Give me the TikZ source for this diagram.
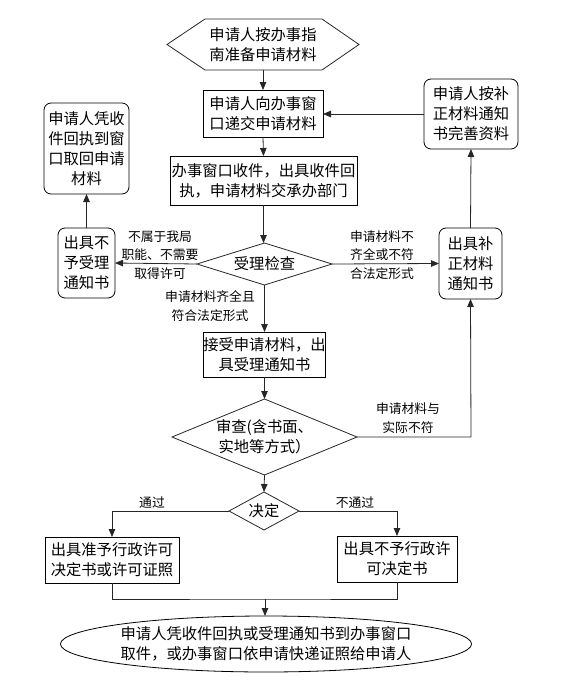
\documentclass[tikz,border=0pt]{standalone}
\usepackage{fontspec}
\setmainfont{Noto Sans CJK SC}
\usetikzlibrary{arrows.meta,calc,shapes.geometric}
\begin{document}
\begin{tikzpicture}[x=1pt,y=-1pt,
  every node/.style={inner sep=0pt,outer sep=0pt,align=center},
  main/.style={font=\fontsize{15.3}{20}\selectfont},
  lab/.style={font=\fontsize{12.8}{18.3}\selectfont},
  box/.style={main,draw,line width=0.8pt,rectangle},
  rbox/.style={box,rounded corners=7pt},
  ghost/.style={main,rectangle,draw=none},
  line/.style={line width=0.8pt,draw=black!85},
  arr/.style={line,-{Triangle[length=8pt,width=6.5pt]}}]
\useasboundingbox (0,0) rectangle (586,693);
% nodes
\node[ghost,minimum width=192pt,minimum height=51pt] (start) at (263,44.5) {申请人按办事指\\南准备申请材料};
\draw[line] (start.west) -- ($(start.north west)+(38,0)$) -- ($(start.north east)+(-37,0)$) -- (start.east) -- ($(start.south east)+(-37,0)$) -- ($(start.south west)+(38,0)$) -- cycle;
\node[box,minimum width=120pt,minimum height=47pt] (b2) at (263,113.5) {申请人向办事窗\\口递交申请材料};
\node[box,minimum width=187pt,minimum height=49pt] (b3) at (263.5,180.5) {办事窗口收件，出具收件回\\执，申请材料交承办部门};
\node[ghost,minimum width=135pt,minimum height=42pt] (d1) at (264.5,264) {受理检查};
\draw[line] (d1.north) -- (d1.east) -- (d1.south) -- (d1.west) -- cycle;
\node[rbox,minimum width=57pt,minimum height=70pt] (l1) at (86.5,263) {出具不\\予受理\\通知书};
\node[rbox,minimum width=85pt,minimum height=91pt] (lt) at (86.5,148.5) {申请人凭收\\件回执到窗\\口取回申请\\材料};
\node[rbox,minimum width=63pt,minimum height=71pt] (r1) at (470.5,263.5) {出具补\\正材料\\通知书};
\node[rbox,minimum width=94pt,minimum height=70pt] (rt) at (471,114) {申请人按补\\正材料通知\\书完善资料};
\node[box,minimum width=121pt,minimum height=45pt] (b4) at (264.5,354.5) {接受申请材料，出\\具受理通知书};
\node[ghost,minimum width=185pt,minimum height=76pt] (d2) at (264.5,437) {审查(含书面、\\实地等方式）};
\draw[line] (d2.north) -- (d2.east) -- (d2.south) -- (d2.west) -- cycle;
\node[ghost,minimum width=70pt,minimum height=38pt] (d3) at (264,511) {决定};
\draw[line] (d3.north) -- (d3.east) -- (d3.south) -- (d3.west) -- cycle;
\node[box,minimum width=134pt,minimum height=46pt] (b5) at (112,560) {出具准予行政许可\\决定书或许可证照};
\node[box,minimum width=120pt,minimum height=46pt] (b6) at (397,559) {出具不予行政许\\可决定书};
\node[main,draw,line width=0.8pt,ellipse,minimum width=332pt,minimum height=56pt] (e) at (266,644) {申请人凭收件回执或受理通知书到办事窗口\\取件，或办事窗口依申请快递证照给申请人};
% labels
\node[lab] (t1) at (160,255) {不属于我局\\职能、不需要\\取得许可};
\node[lab] (t2) at (382,255) {申请材料不\\齐全或不符\\合法定形式};
\node[lab] (t3) at (210,306) {申请材料齐全且\\符合法定形式};
\node[lab] (t4) at (408,418) {申请材料与\\实际不符};
\node[lab] (t5) at (152,503) {通过};
\node[lab] (t6) at (355,503) {不通过};
% connectors
\coordinate (c1) at (471,437);
\coordinate (m) at (265,599);
\draw[arr] (start.south) -- (b2.north);
\draw[arr] (b2.south) -- (b3.north);
\draw[arr] (b3.south) -- (b3.south |- d1.north);
\draw[arr] (d1.west) -- (l1.east);
\draw[arr] (l1.north) -- (lt.south);
\draw[arr] (d1.east) -- (r1.west);
\draw[arr] (r1.north) -- (rt.south);
\draw[arr] (rt.west) -- (b2.east |- rt.west);
\draw[arr] (d1.south) -- (d1.south |- b4.north);
\draw[arr] (b4.south) -- (b4.south |- d2.north);
\draw[arr] (d2.east) -- (c1) -- (r1.south);
\draw[arr] (d2.south) -- (d3.north);
\draw[arr] (d3.west) -| (b5.north);
\draw[arr] (d3.east) -| (b6.north);
\draw[line] (b5.south) |- (m) -| (b6.south);
\draw[arr] (m) -- (m |- e.north);
\end{tikzpicture}
\end{document}
